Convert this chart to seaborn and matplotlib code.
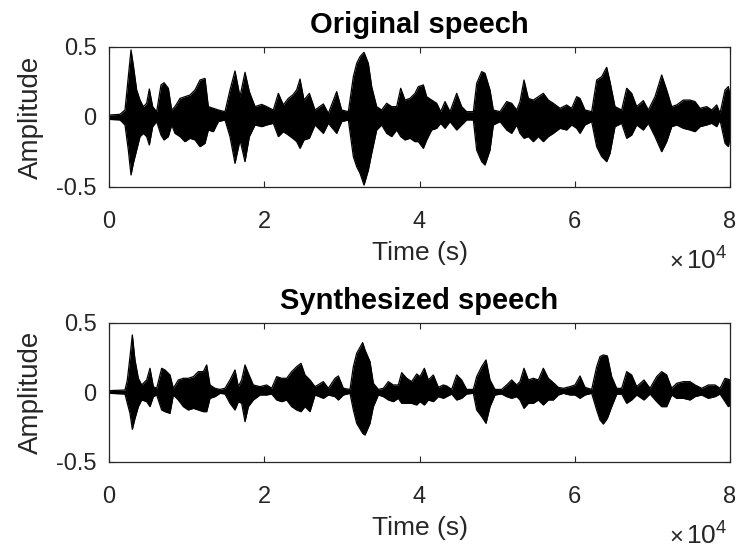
import matplotlib
matplotlib.use("Agg")
import matplotlib.pyplot as plt
import pandas as pd
import seaborn as sns

# Peak envelope of each waveform: sample index, positive peak, negative peak
orig_t = [0, 1417, 2061, 2490, 2834, 3135, 3564, 3993, 4422, 4852, 5195, 5624, 6140, 6698, 7085,
          7643, 8073, 8502, 9146, 9790, 10434, 11078, 11722, 12366, 12795, 13439, 14083, 14943,
          15587, 16231, 16875, 17519, 18077, 18808, 19667, 20311, 21170, 21814, 22458, 23102,
          23660, 24175, 24605, 25120, 25807, 26537, 27611, 28255, 29329, 29973, 30832, 31476,
          31905, 32334, 32850, 33408, 33837, 34481, 35125, 35769, 36413, 37057, 37573, 38131,
          38775, 39419, 39848, 40492, 40921, 41565, 42209, 42725, 43283, 43927, 44786, 45430,
          46074, 46933, 47362, 48006, 48435, 49079, 49508, 50367, 51226, 51870, 52514, 52943,
          53459, 54017, 54661, 55305, 55949, 56593, 57237, 58097, 58955, 59599, 60243, 60673,
          61317, 62176, 62820, 63464, 64108, 64538, 65182, 66041, 66685, 67329, 67973, 68832,
          69476, 70335, 71194, 71838, 72482, 73126, 73985, 74844, 75488, 76132, 76995, 77639,
          78283, 78712, 79356, 79785, 80000]
orig_upper = [0.014, 0.019, 0.050, 0.290, 0.479, 0.369, 0.193, 0.121, 0.074, 0.098, 0.200, 0.074,
              0.038, 0.229, 0.245, 0.205, 0.050, 0.074, 0.133, 0.145, 0.157, 0.193, 0.264, 0.276,
              0.074, 0.062, 0.050, 0.038, 0.193, 0.329, 0.145, 0.319, 0.181, 0.074, 0.090, 0.074,
              0.050, 0.169, 0.086, 0.133, 0.157, 0.193, 0.271, 0.121, 0.169, 0.050, 0.093, 0.026,
              0.181, 0.050, 0.038, 0.288, 0.383, 0.431, 0.462, 0.383, 0.217, 0.074, 0.050, 0.098,
              0.074, 0.074, 0.205, 0.121, 0.133, 0.169, 0.217, 0.229, 0.145, 0.121, 0.098, 0.038,
              0.110, 0.038, 0.169, 0.074, 0.038, 0.038, 0.240, 0.324, 0.312, 0.193, 0.050, 0.038,
              0.110, 0.098, 0.050, 0.110, 0.264, 0.133, 0.121, 0.145, 0.169, 0.121, 0.098, 0.062,
              0.086, 0.062, 0.145, 0.133, 0.050, 0.038, 0.264, 0.288, 0.355, 0.252, 0.074, 0.050,
              0.205, 0.169, 0.074, 0.117, 0.050, 0.145, 0.300, 0.193, 0.074, 0.086, 0.121, 0.121,
              0.110, 0.062, 0.074, 0.050, 0.086, 0.026, 0.193, 0.217, 0.150]
orig_lower = [-0.017, -0.021, -0.057, -0.236, -0.414, -0.331, -0.236, -0.140, -0.117, -0.140,
              -0.200, -0.069, -0.033, -0.129, -0.164, -0.140, -0.057, -0.117, -0.140, -0.176,
              -0.152, -0.164, -0.212, -0.188, -0.093, -0.105, -0.033, -0.021, -0.140, -0.331,
              -0.164, -0.319, -0.140, -0.057, -0.069, -0.057, -0.045, -0.140, -0.105, -0.129,
              -0.152, -0.176, -0.224, -0.164, -0.152, -0.057, -0.117, -0.045, -0.117, -0.033,
              -0.021, -0.283, -0.355, -0.402, -0.486, -0.379, -0.260, -0.093, -0.057, -0.117,
              -0.140, -0.093, -0.140, -0.164, -0.152, -0.176, -0.176, -0.224, -0.164, -0.093,
              -0.081, -0.045, -0.081, -0.033, -0.093, -0.057, -0.021, -0.021, -0.236, -0.319,
              -0.343, -0.236, -0.057, -0.033, -0.093, -0.117, -0.057, -0.117, -0.152, -0.140,
              -0.176, -0.140, -0.176, -0.140, -0.117, -0.081, -0.093, -0.057, -0.081, -0.117,
              -0.057, -0.033, -0.212, -0.283, -0.319, -0.260, -0.069, -0.045, -0.152, -0.129,
              -0.057, -0.093, -0.045, -0.140, -0.248, -0.176, -0.069, -0.057, -0.081, -0.093,
              -0.105, -0.069, -0.057, -0.045, -0.069, -0.021, -0.188, -0.212, -0.150]

synth_t = [0, 2061, 2362, 2705, 3006, 3349, 3779, 4208, 4852, 5281, 5710, 6140, 6784, 7214, 7858,
           8287, 8931, 9575, 10219, 10863, 11507, 12151, 12581, 13010, 13654, 14298, 14943, 15587,
           16231, 16660, 17090, 17519, 17948, 18592, 19452, 20311, 20955, 21599, 22243, 22887,
           23531, 24175, 24733, 25249, 25893, 26537, 27611, 28255, 29114, 29544, 30188, 31046,
           31476, 31905, 32677, 32979, 33622, 34052, 34696, 35340, 35984, 36628, 37272, 37702,
           38346, 38990, 39634, 40063, 40621, 41136, 41780, 42425, 43069, 43498, 44142, 44786,
           45430, 46074, 46933, 47362, 48006, 48564, 49079, 49723, 50582, 51226, 51870, 52514,
           52943, 53459, 54017, 54661, 55305, 55949, 56593, 57237, 57881, 58525, 59385, 60029,
           60673, 61317, 62176, 62820, 63250, 63679, 64194, 64753, 65397, 66041, 66685, 67329,
           67973, 68918, 69691, 70550, 71194, 71838, 72482, 73126, 73985, 74844, 75488, 76347,
           77206, 78067, 78712, 79356, 79785, 80000]
synth_upper = [0.013, 0.018, 0.090, 0.258, 0.414, 0.234, 0.102, 0.054, 0.090, 0.174, 0.042, 0.030,
               0.174, 0.162, 0.126, 0.030, 0.090, 0.102, 0.102, 0.114, 0.150, 0.150, 0.198, 0.054,
               0.030, 0.022, 0.030, 0.090, 0.162, 0.042, 0.090, 0.198, 0.138, 0.054, 0.042, 0.054,
               0.030, 0.114, 0.102, 0.102, 0.150, 0.186, 0.210, 0.126, 0.090, 0.042, 0.078, 0.030,
               0.102, 0.119, 0.030, 0.022, 0.186, 0.282, 0.359, 0.306, 0.222, 0.066, 0.022, 0.030,
               0.078, 0.054, 0.054, 0.143, 0.102, 0.078, 0.133, 0.114, 0.174, 0.090, 0.126, 0.037,
               0.054, 0.047, 0.022, 0.126, 0.090, 0.022, 0.022, 0.114, 0.186, 0.234, 0.090, 0.022,
               0.022, 0.054, 0.090, 0.054, 0.078, 0.174, 0.090, 0.102, 0.090, 0.174, 0.102, 0.071,
               0.037, 0.030, 0.042, 0.054, 0.119, 0.037, 0.022, 0.186, 0.258, 0.270, 0.263, 0.114,
               0.030, 0.030, 0.150, 0.126, 0.042, 0.090, 0.030, 0.114, 0.150, 0.126, 0.030, 0.066,
               0.078, 0.078, 0.054, 0.030, 0.054, 0.054, 0.030, 0.102, 0.095, 0.090]
synth_lower = [-0.006, -0.011, -0.078, -0.150, -0.265, -0.186, -0.102, -0.054, -0.066, -0.102,
               -0.030, -0.018, -0.126, -0.138, -0.150, -0.018, -0.054, -0.102, -0.126, -0.114,
               -0.126, -0.138, -0.138, -0.042, -0.030, -0.006, -0.011, -0.078, -0.126, -0.066,
               -0.078, -0.210, -0.102, -0.054, -0.018, -0.018, -0.011, -0.054, -0.066, -0.054,
               -0.102, -0.126, -0.138, -0.102, -0.138, -0.018, -0.042, -0.018, -0.030, -0.054,
               -0.018, -0.006, -0.126, -0.222, -0.294, -0.306, -0.222, -0.102, -0.018, -0.030,
               -0.054, -0.066, -0.042, -0.078, -0.078, -0.078, -0.090, -0.066, -0.090, -0.054,
               -0.066, -0.030, -0.042, -0.030, -0.011, -0.054, -0.042, -0.011, -0.006, -0.126,
               -0.174, -0.222, -0.102, -0.018, -0.011, -0.030, -0.042, -0.030, -0.054, -0.114,
               -0.078, -0.078, -0.054, -0.090, -0.054, -0.054, -0.018, -0.006, -0.018, -0.018,
               -0.042, -0.018, -0.006, -0.126, -0.198, -0.227, -0.186, -0.102, -0.013, -0.011,
               -0.078, -0.054, -0.018, -0.054, -0.011, -0.066, -0.102, -0.102, -0.018, -0.042,
               -0.042, -0.054, -0.030, -0.018, -0.042, -0.030, -0.011, -0.066, -0.102, -0.090]

titles = ["Original speech", "Synthesized speech"]
x_ticks = [0, 20000, 40000, 60000, 80000]
x_tick_labels = ["0", "2", "4", "6", "8"]
y_ticks = [-0.5, 0, 0.5]
y_tick_labels = ["-0.5", "0", "0.5"]

sns.set_style("ticks")
plt.rcParams["font.family"] = ["Liberation Sans", "DejaVu Sans"]
plt.rcParams["mathtext.fontset"] = "custom"
plt.rcParams["mathtext.rm"] = "Liberation Sans"
plt.rcParams["mathtext.it"] = "Liberation Sans:italic"

axis_color = "#262626"
fig = plt.figure(figsize=(7.36, 5.49), dpi=100)
ax_top = fig.add_axes([0.1481, 0.6594, 0.8438, 0.2550])
ax_bot = fig.add_axes([0.1481, 0.1585, 0.8438, 0.2532])

panels = [
    (ax_top, orig_t, orig_upper, orig_lower),
    (ax_bot, synth_t, synth_upper, synth_lower),
]

for (ax, t, up, lo), title in zip(panels, titles):
    df = pd.DataFrame({"Sample": t, "upper": up, "lower": lo})
    ax.fill_between(df["Sample"], df["lower"], df["upper"], color="black", lw=0)
    sns.lineplot(data=df, x="Sample", y="upper", color="black", lw=0.9, ax=ax)
    sns.lineplot(data=df, x="Sample", y="lower", color="black", lw=0.9, ax=ax)

    ax.set_xlim(0, 80000)
    ax.set_ylim(-0.5, 0.5)
    ax.set_xticks(x_ticks)
    ax.set_xticklabels(x_tick_labels)
    ax.set_yticks(y_ticks)
    ax.set_yticklabels(y_tick_labels)
    ax.tick_params(axis="both", direction="in", top=True, right=True, length=4.5,
                   width=0.8, colors=axis_color, labelsize=17, labelcolor=axis_color)
    ax.tick_params(axis="x", pad=17)
    ax.tick_params(axis="y", pad=9)
    for sp in ax.spines.values():
        sp.set_visible(True)
        sp.set_color(axis_color)
        sp.set_linewidth(0.9)
    ax.set_xlabel("Time (s)", fontsize=19, color=axis_color, labelpad=6)
    ax.set_ylabel("Amplitude", fontsize=20, color=axis_color, labelpad=9)
    ax.set_title(title, fontsize=21, fontweight="bold", color="black", pad=10)

# shared exponent of the sample axis
for y_px in (270, 545):
    fig.text(727 / 736, 1 - y_px / 549, r"$10^{4}$", ha="right", va="baseline",
             fontsize=19, color=axis_color)
    fig.text(683 / 736, 1 - (y_px - 1) / 549, "×", ha="right", va="baseline",
             fontsize=17, color=axis_color)

fig.savefig("out.png", dpi=100, facecolor="white")
